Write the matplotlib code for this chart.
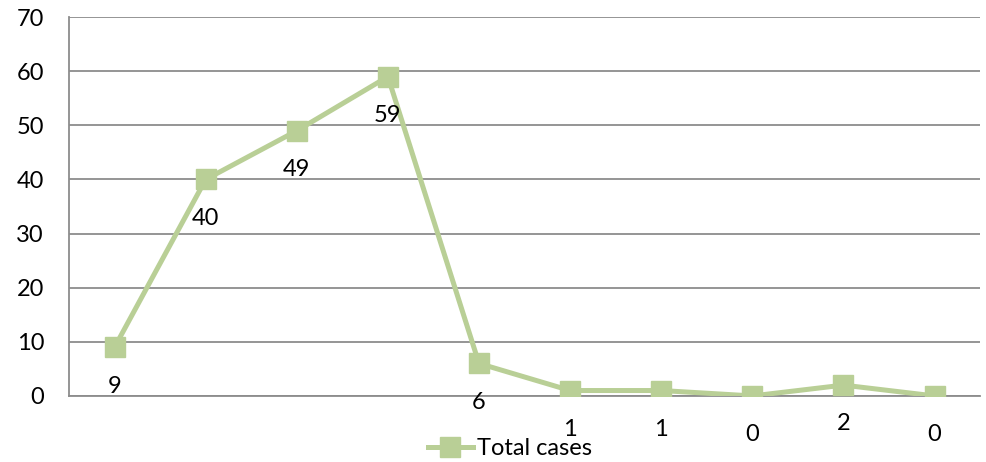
import numpy as np
import matplotlib.pyplot as plt

plt.rcParams['font.family'] = ['Lato', 'DejaVu Sans']

# data
cases = [9, 40, 49, 59, 6, 1, 1, 0, 2, 0]
series_name = 'Total cases'
yticks = [0, 10, 20, 30, 40, 50, 60, 70]

green = '#B9CF96'
grid_col = '#8C8C8C'

fig = plt.figure(figsize=(9.86, 4.62), dpi=100)
ax = fig.add_axes([0.070, 0.143, 0.924, 0.820])

x = np.arange(len(cases))
ax.plot(x, cases, color=green, linewidth=3.6, marker='s', markersize=14,
        markerfacecolor=green, markeredgecolor=green, label=series_name,
        solid_joinstyle='miter', zorder=3)

for xi, v in zip(x, cases):
    ax.annotate(str(v), xy=(xi, v), xytext=(0, -28), textcoords='offset points',
                ha='center', va='center', fontsize=17, color='black')

ax.set_xlim(-0.5, len(cases) - 0.5)
ax.set_ylim(0, 70)
ax.set_yticks(yticks)
ax.set_xticks([])
ax.tick_params(axis='y', length=0, pad=18, labelsize=17)
ax.grid(axis='y', color=grid_col, linewidth=1.3)
ax.set_axisbelow(True)
for s in ['top', 'right']:
    ax.spines[s].set_visible(False)
ax.spines['left'].set_color(grid_col)
ax.spines['left'].set_linewidth(1.3)
ax.spines['bottom'].set_color(grid_col)
ax.spines['bottom'].set_linewidth(1.3)

ax.legend(loc='center', bbox_to_anchor=(0.484, -0.14), frameon=False,
          fontsize=17, handlelength=1.9, handletextpad=0.2)

fig.savefig('out.png', dpi=100)
